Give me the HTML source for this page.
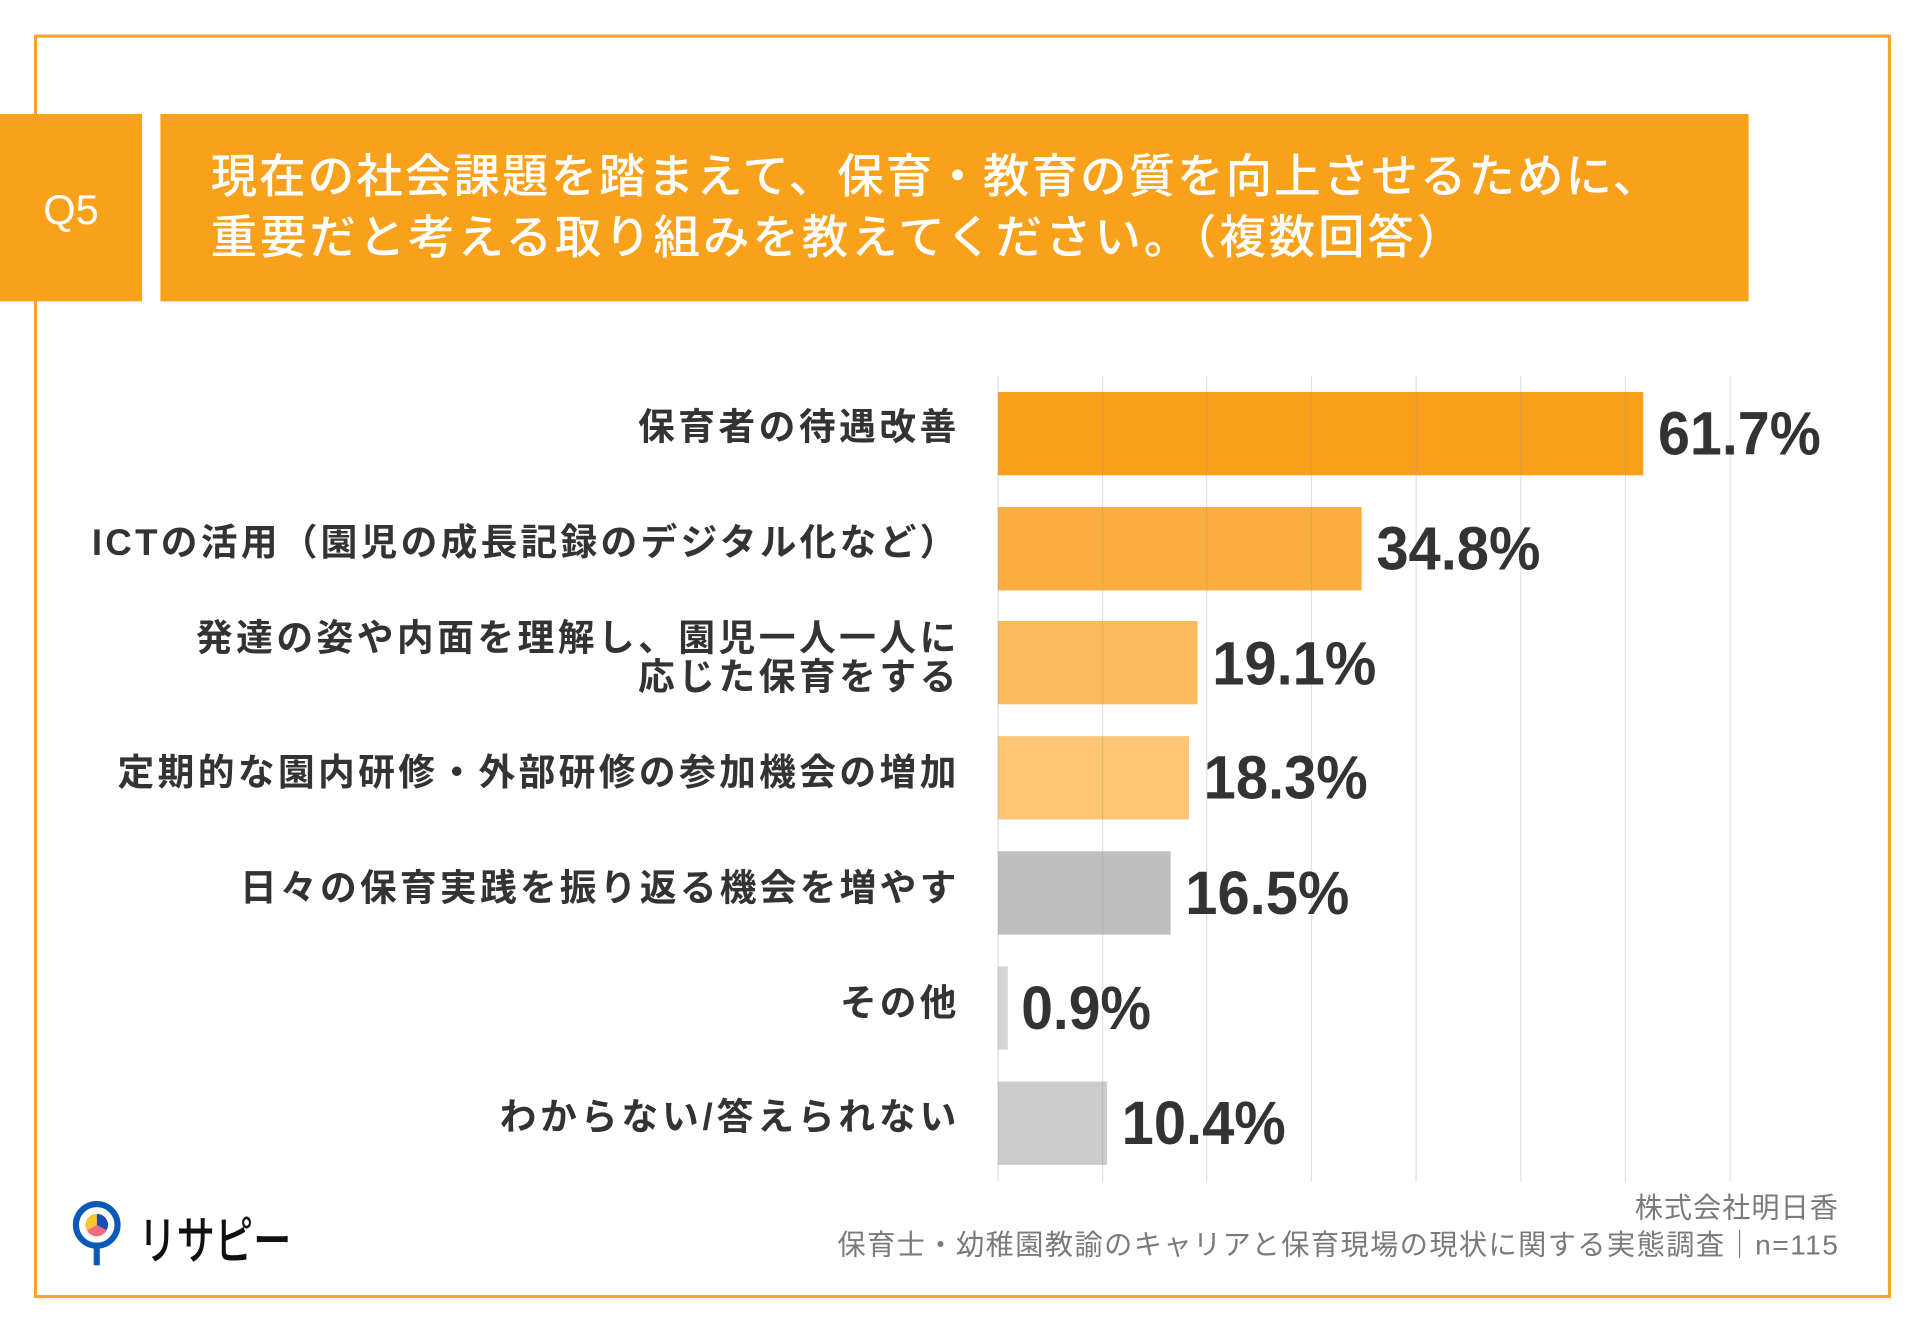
<!DOCTYPE html>
<html><head><meta charset="utf-8"><style>
html,body{margin:0;padding:0;background:#fff;}
svg{display:block;}
text{font-family:"Liberation Sans","Noto Sans CJK JP",sans-serif;}
</style></head><body>
<svg width="1920" height="1329" viewBox="0 0 1568 1085" preserveAspectRatio="none" xmlns="http://www.w3.org/2000/svg">
<rect x="0" y="0" width="1568" height="1085" fill="#fff"/>
<rect x="29" y="29.5" width="1514" height="1029" fill="none" stroke="#F5A42A" stroke-width="2.5"/>
<rect x="0" y="93" width="116" height="153" fill="#F9A11B"/>
<rect x="131" y="93" width="1297" height="153" fill="#F9A11B"/>
<text x="58" y="183" font-size="34" fill="#fff" text-anchor="middle" font-family="Liberation Sans, sans-serif">Q5</text>
<g fill="#fff" font-size="38" font-weight="500" style="font-family:'Noto Sans CJK JP',sans-serif">
<text x="172" y="157" textLength="1183" lengthAdjust="spacing">現在の社会課題を踏まえて、保育・教育の質を向上させるために、</text>
<text x="172" y="207" textLength="1023" lengthAdjust="spacing">重要だと考える取り組みを教えてください。（複数回答）</text>
</g>
<!-- bars -->
<rect x="815" y="320" width="527" height="68" fill="#F99F1A"/>
<rect x="815" y="414" width="297" height="68" fill="#FBAD40"/>
<rect x="815" y="507" width="163" height="68" fill="#FCBA5A"/>
<rect x="815" y="601" width="156" height="68" fill="#FDC574"/>
<rect x="815" y="695" width="141" height="68" fill="#BEBEBE"/>
<rect x="815" y="789" width="8" height="68" fill="#D4D4D4"/>
<rect x="815" y="883" width="89" height="68" fill="#CBCBCB"/>
<!-- grid -->
<g stroke="#999" stroke-opacity="0.3" stroke-width="1">
<line x1="815" y1="307" x2="815" y2="965"/><line x1="900.5" y1="307" x2="900.5" y2="965"/>
<line x1="985.5" y1="307" x2="985.5" y2="965"/><line x1="1071" y1="307" x2="1071" y2="965"/>
<line x1="1156.5" y1="307" x2="1156.5" y2="965"/><line x1="1242" y1="307" x2="1242" y2="965"/>
<line x1="1327.5" y1="307" x2="1327.5" y2="965"/><line x1="1413" y1="307" x2="1413" y2="965"/>
</g>
<!-- value labels -->
<g fill="#333" font-size="50" font-weight="bold" style="font-family:'Noto Sans CJK JP',sans-serif">
<text x="1354" y="371" textLength="133" lengthAdjust="spacingAndGlyphs">61.7%</text>
<text x="1124" y="465" textLength="134" lengthAdjust="spacingAndGlyphs">34.8%</text>
<text x="990" y="559" textLength="134" lengthAdjust="spacingAndGlyphs">19.1%</text>
<text x="983" y="652" textLength="134" lengthAdjust="spacingAndGlyphs">18.3%</text>
<text x="968" y="746" textLength="134" lengthAdjust="spacingAndGlyphs">16.5%</text>
<text x="834" y="840" textLength="106" lengthAdjust="spacingAndGlyphs">0.9%</text>
<text x="916" y="934" textLength="134" lengthAdjust="spacingAndGlyphs">10.4%</text>
</g>
<!-- category labels -->
<g fill="#333" font-size="30" font-weight="bold" style="font-family:'Noto Sans CJK JP',sans-serif">
<text x="521" y="359" textLength="260" lengthAdjust="spacing">保育者の待遇改善</text>
<text x="75" y="453" textLength="706" lengthAdjust="spacing">ICTの活用（園児の成長記録のデジタル化など）</text>
<text x="160" y="531" textLength="621" lengthAdjust="spacing">発達の姿や内面を理解し、園児一人一人に</text>
<text x="521" y="563" textLength="260" lengthAdjust="spacing">応じた保育をする</text>
<text x="96" y="641" textLength="685" lengthAdjust="spacing">定期的な園内研修・外部研修の参加機会の増加</text>
<text x="196" y="735" textLength="585" lengthAdjust="spacing">日々の保育実践を振り返る機会を増やす</text>
<text x="686" y="829" textLength="95" lengthAdjust="spacing">その他</text>
<text x="408" y="922" textLength="373" lengthAdjust="spacing">わからない/答えられない</text>
</g>
<!-- footer -->
<g fill="#7a7a7a" font-size="23" style="font-family:'Noto Sans CJK JP',sans-serif" text-anchor="end">
<text x="1501" y="994" textLength="166" lengthAdjust="spacing">株式会社明日香</text>
<text x="1501" y="1024" textLength="817" lengthAdjust="spacing">保育士・幼稚園教諭のキャリアと保育現場の現状に関する実態調査｜n=115</text>
</g>
<!-- logo -->
<g>
<line x1="79" y1="1010" x2="79" y2="1033" stroke="#0A58B8" stroke-width="5"/>
<circle cx="79" cy="1000" r="17" fill="#fff" stroke="#0A58B8" stroke-width="5"/>
<path d="M79 1000 L79 991 A9 9 0 0 1 87 1004.5 Z" fill="#1A4FB0"/>
<path d="M79 1000 L87 1004.5 A9 9 0 0 1 71 1004.5 Z" fill="#F26A7E"/>
<path d="M79 1000 L71 1004.5 A9 9 0 0 1 79 991 Z" fill="#F8C72A"/>
<text x="113" y="1028" font-size="42" fill="#111" font-weight="500" textLength="125" lengthAdjust="spacingAndGlyphs" style="font-family:'Noto Sans CJK JP',sans-serif">リサピー</text>
</g>
</svg>
</body></html>
